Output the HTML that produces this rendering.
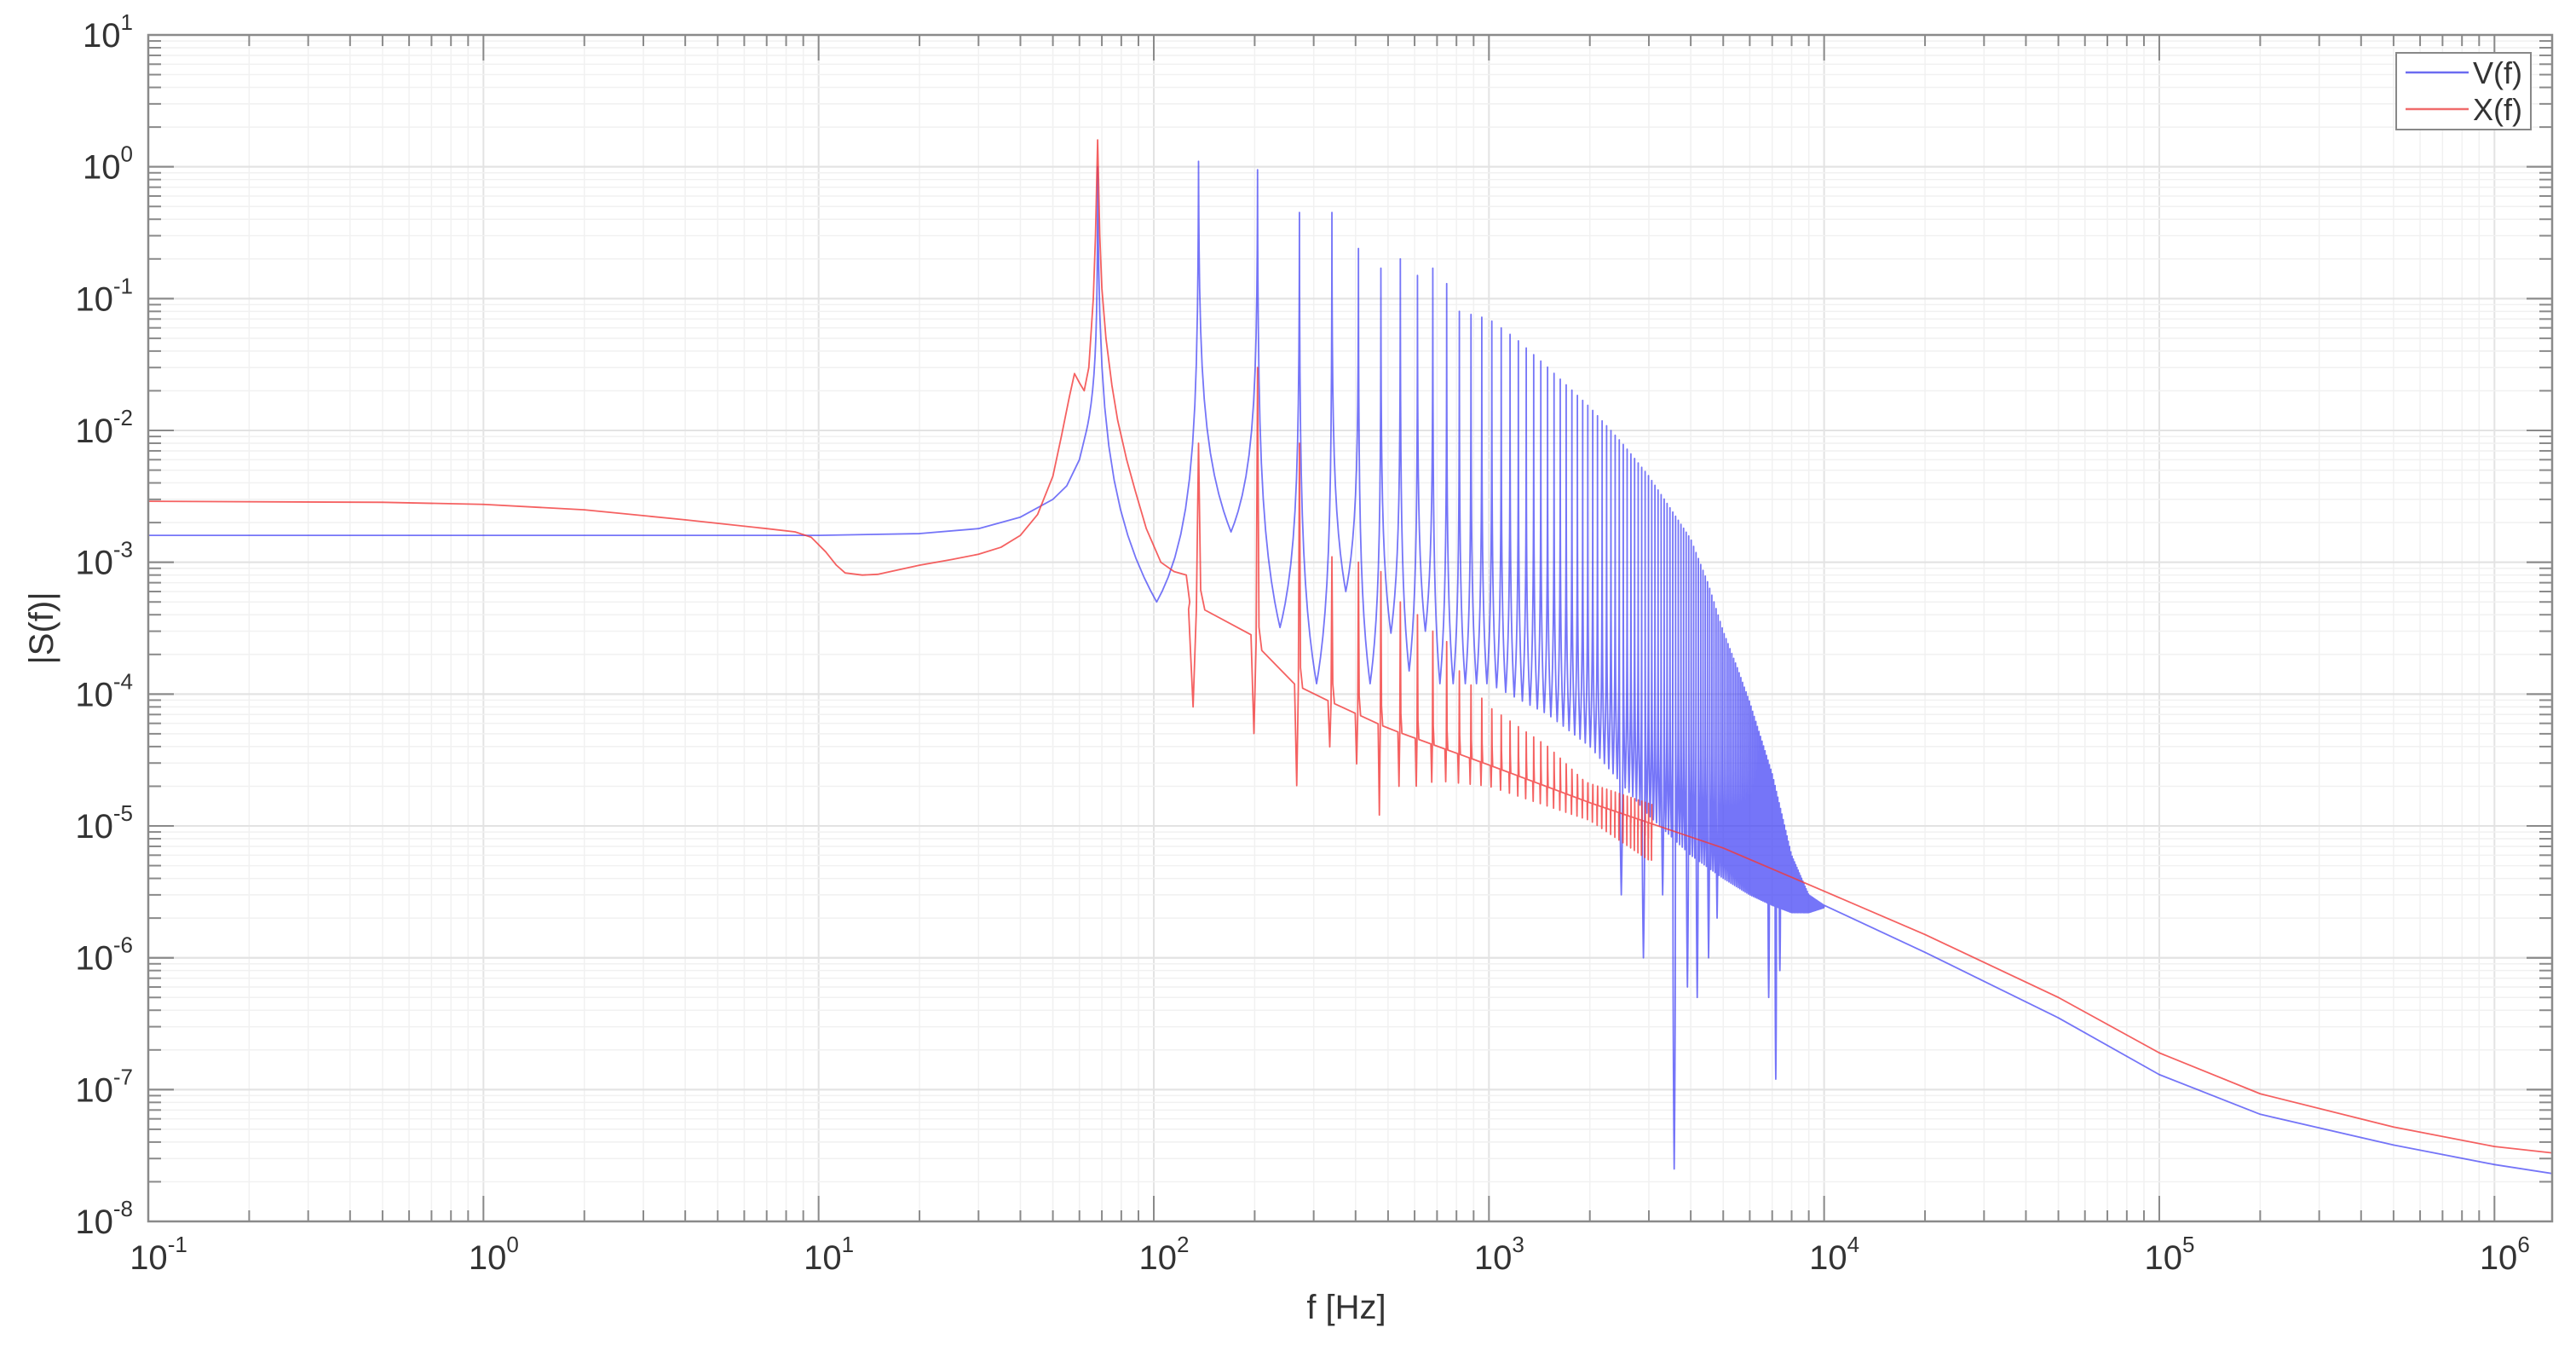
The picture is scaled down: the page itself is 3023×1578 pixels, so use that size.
<!DOCTYPE html>
<html><head><meta charset="utf-8">
<style>
html,body{margin:0;padding:0;background:#fff;}
svg{display:block;font-family:"Liberation Sans",Arial,sans-serif;}
</style></head>
<body>
<svg id="chart" width="3023" height="1578" viewBox="0 0 3023 1578" xmlns="http://www.w3.org/2000/svg">
<defs><clipPath id="plotclip"><rect x="174" y="41" width="2821" height="1392"/></clipPath></defs>
<rect x="174" y="41" width="2821" height="1392" fill="#fff"/>
<g id="grid"></g>
<g id="series" clip-path="url(#plotclip)"></g>
<g id="axes"></g>
<text x="1580" y="1547" font-size="40" fill="#333" text-anchor="middle">f [Hz]</text>
<text x="62" y="737" font-size="40" fill="#333" text-anchor="middle" transform="rotate(-90 62 737)">|S(f)|</text>
<g>
  <rect x="2812" y="62" width="158" height="90" fill="#fff" stroke="#888" stroke-width="2"/>
  <line x1="2823" y1="85" x2="2897" y2="85" stroke="#6b6bf0" stroke-width="2.5"/>
  <text x="2902" y="98" font-size="36" fill="#333">V(f)</text>
  <line x1="2823" y1="128" x2="2897" y2="128" stroke="#f06b6b" stroke-width="2.5"/>
  <text x="2902" y="141" font-size="36" fill="#333">X(f)</text>
</g>
</svg>
<script>
// ---------- data ----------
const xTickExps = [-1,0,1,2,3,4,5,6];
const yTickExps = [1,0,-1,-2,-3,-4,-5,-6,-7,-8];
const fundamentalHz = 68;
const harmonicCount = 147;
// V(f) low-frequency nodes
const blueLowF = [0.1,1,10,20,30,40,50,55,60,63];
const blueLowV = [1.6e-3,1.6e-3,1.6e-3,1.65e-3,1.8e-3,2.2e-3,3e-3,3.8e-3,6e-3,1e-2];
// V(f) harmonic peak envelope
const bluePeakF = [68,136,204,272,340,408,476,544,612,680,748,816,1000,1200,1500,2000,2500,3000,3500,4000,4500,5000,5500,6000,7000,8000,9000,10000];
const bluePeakV = [1.0,1.1,0.95,0.45,0.45,0.24,0.17,0.2,0.15,0.17,0.13,0.08,0.07,0.05,0.03,0.015,8e-3,4.5e-3,2.5e-3,1.5e-3,7e-4,3e-4,1.6e-4,8.7e-5,2.5e-5,6e-6,3e-6,2.5e-6];
// V(f) trough envelope (between harmonics)
const blueTroughF = [102,170,238,306,374,442,510,578,646,714,1000,1500,2000,3000,4000,5000,6000,7000,8000,9000,10000];
const blueTroughV = [5e-4,1.7e-3,3.2e-4,1.2e-4,6e-4,1.2e-4,2.9e-4,1.5e-4,3e-4,1.2e-4,1.2e-4,7e-5,4e-5,1.2e-5,6e-6,4e-6,3e-6,2.5e-6,2.2e-6,2.2e-6,2.4e-6];
// V(f) deep notches
const blueDipF = [2450,2900,3300,3600,3900,4200,4500,4800,6800,7200,7400];
const blueDipV = [3e-6,1e-6,3e-6,2.5e-8,6e-7,5e-7,1e-6,2e-6,5e-7,1.2e-7,8e-7];
// V(f) high-frequency tail
const blueTailF = [10000,20000,50000,100000,200000,500000,1000000,1500000];
const blueTailV = [2.4e-6,1.1e-6,3.5e-7,1.3e-7,6.5e-8,3.8e-8,2.7e-8,2.3e-8];
// X(f) low-frequency nodes
const redLowF = [0.1,0.5,1,2,4,7,8.5,9.5,10.5,11.3,12,13.5,15,20,25,30,35,40,45,50,53,56,58,60,62,64,66,67,68,69,70,72,75,78,83,88,95,105,115,125,128];
const redLowV = [2.9e-3,2.85e-3,2.75e-3,2.5e-3,2.1e-3,1.8e-3,1.7e-3,1.55e-3,1.2e-3,9.5e-4,8.3e-4,8e-4,8.1e-4,9.5e-4,1.05e-3,1.15e-3,1.3e-3,1.6e-3,2.3e-3,4.5e-3,9e-3,1.8e-2,2.7e-2,2.3e-2,2e-2,3e-2,0.1,0.3,1.6,0.3,0.12,5e-2,2.2e-2,1.2e-2,6e-3,3.5e-3,1.8e-3,1e-3,8.5e-4,8e-4,5e-4];
// X(f) baseline
const redBaseF = [140,184,214,262,300,500,1000,2000,5000,10000,20000,50000,100000,200000,500000,1000000,1500000];
const redBaseV = [4.4e-4,3.5e-4,2e-4,1.2e-4,1e-4,5.5e-5,2.9e-5,1.5e-5,6.8e-6,3.2e-6,1.5e-6,5e-7,1.9e-7,9.3e-8,5.2e-8,3.7e-8,3.3e-8];
// X(f) harmonic peaks and notches
const redPeakF = [136,204,272,340,408,476,544,612,680,748,816,1000,1500,2000,3000];
const redPeakV = [8e-3,3e-2,8e-3,1.1e-3,1e-3,8.5e-4,5e-4,4e-4,3e-4,2.5e-4,1.5e-4,8e-5,4e-5,2e-5,8e-6];
const redDipF = [131,200,266,334,402,470,538,606,700,1000,2000,3000];
const redDipV = [8e-5,5e-5,2e-5,4e-5,3e-5,1.2e-5,2e-5,2e-5,2.2e-5,2e-5,1.1e-5,5.5e-6];

// ---------- scales ----------
const X0=174, X1=2995, Y0=41, Y1=1433, DX=393.33, DY=154.67;
const xScale = f => X0 + (Math.log10(f)+1)*DX;
const yScale = v => Y0 + (1-Math.log10(v))*DY;
const fMax = Math.pow(10,(X1-X0)/DX-1);
function logInterp(F,V,f){
  if(f<=F[0]) return V[0];
  if(f>=F[F.length-1]) return V[V.length-1];
  for(let i=0;i<F.length-1;i++){
    if(f>=F[i]&&f<=F[i+1]){
      const t=(Math.log(f)-Math.log(F[i]))/(Math.log(F[i+1])-Math.log(F[i]));
      return Math.exp(Math.log(V[i])+t*(Math.log(V[i+1])-Math.log(V[i])));
    }
  }
}
const NS="http://www.w3.org/2000/svg";
function mk(tag,attrs,parent){const e=document.createElementNS(NS,tag);for(const k in attrs)e.setAttribute(k,attrs[k]);parent.appendChild(e);return e;}

// ---------- grid ----------
const grid=document.getElementById('grid');
for(let d=-1;d<=6;d++){for(let m=1;m<=9;m++){const f=m*Math.pow(10,d);if(f>fMax)continue;const x=xScale(f);
  const l=mk('line',{x1:x,y1:Y0,x2:x,y2:Y1,stroke:m===1?'#e3e3e3':'#f1f1f1','stroke-width':m===1?2:1.5},grid);
  
  }}
for(let d=-8;d<=0;d++){for(let m=1;m<=10;m++){const v=m*Math.pow(10,d);const y=yScale(v);
  const l=mk('line',{x1:X0,y1:y,x2:X1,y2:y,stroke:(m===1||m===10)?'#e3e3e3':'#f1f1f1','stroke-width':(m===1||m===10)?2:1.5},grid);
  
  }}

// ---------- series ----------
const K=150;
function profile(P,T,n,rising){ // resonance-like cusp: log v falls ~ log(distance)
  const out=[];
  for(let i=0;i<=n;i++){const d=i/n;const s=1-Math.log(1+K*d)/Math.log(1+K);out.push(Math.exp(Math.log(T)+(Math.log(P)-Math.log(T))*s));}
  return rising?out.reverse():out;
}
const samp=[0,0.003,0.008,0.015,0.03,0.06,0.1,0.16,0.24,0.34,0.46,0.6,0.75,0.88,1];
function profileAt(P,T,d){const s=1-Math.log(1+K*d)/Math.log(1+K);return Math.exp(Math.log(T)+(Math.log(P)-Math.log(T))*s);}
// blue
const bpts=[];
blueLowF.forEach((f,i)=>bpts.push([f,blueLowV[i]]));
// rising side into first peak
{const P=logInterp(bluePeakF,bluePeakV,fundamentalHz);const T=blueLowV[blueLowV.length-1];const a=blueLowF[blueLowF.length-1];
 for(let i=samp.length-2;i>=0;i--){bpts.push([fundamentalHz-(fundamentalHz-a)*samp[i],profileAt(P,T,samp[i])]);}}
const troughs=[];
for(let k=1;k<harmonicCount;k++){const mid=(k+0.5)*fundamentalHz;troughs.push(logInterp(blueTroughF,blueTroughV,mid));}
blueDipF.forEach((f,i)=>{const k=Math.round(f/fundamentalHz-0.5);if(k>=1&&k<harmonicCount)troughs[k-1]=blueDipV[i];});
for(let k=1;k<harmonicCount;k++){
  const fa=k*fundamentalHz, fb=(k+1)*fundamentalHz, P=logInterp(bluePeakF,bluePeakV,fa), Q=logInterp(bluePeakF,bluePeakV,fb), T=troughs[k-1];
  const half=(fb-fa)/2;
  for(let i=1;i<samp.length;i++)bpts.push([fa+half*samp[i],profileAt(P,T,samp[i])]);
  for(let i=samp.length-2;i>=0;i--)bpts.push([fb-half*samp[i],profileAt(Q,T,samp[i])]);
}
blueTailF.forEach((f,i)=>{if(f>harmonicCount*fundamentalHz+20)bpts.push([f,blueTailV[i]]);});
// red
const rpts=[];
redLowF.forEach((f,i)=>rpts.push([f,redLowV[i]]));
for(let k=2;k<=45;k++){
  const fk=k*fundamentalHz;
  const P=logInterp(redPeakF,redPeakV,fk), D=logInterp(redDipF,redDipV,fk-5);
  rpts.push([fk-9,logInterp(redBaseF,redBaseV,fk-9)]);
  rpts.push([fk-5,D]);
  rpts.push([fk-2,logInterp(redBaseF,redBaseV,fk-2)]);
  rpts.push([fk,P]);
  rpts.push([fk+2,logInterp(redBaseF,redBaseV,fk+2)*1.4]);
  rpts.push([fk+6,logInterp(redBaseF,redBaseV,fk+6)]);
}
redBaseF.forEach((f,i)=>{if(f>45*fundamentalHz+6)rpts.push([f,redBaseV[i]]);});
const series=document.getElementById('series');
function pathOf(pts){return pts.map((p,i)=>(i?'L':'M')+xScale(p[0]).toFixed(2)+' '+yScale(p[1]).toFixed(2)).join('');}
const bp=mk('path',{d:pathOf(bpts),fill:'none',stroke:'#3b3bf5','stroke-opacity':0.7,'stroke-width':1.8,'stroke-linejoin':'round'},series);


const rp=mk('path',{d:pathOf(rpts),fill:'none',stroke:'#f23a3a','stroke-opacity':0.8,'stroke-width':1.8,'stroke-linejoin':'round'},series);



// ---------- axes ----------
const axes=document.getElementById('axes');
const box=mk('rect',{x:X0,y:Y0,width:X1-X0,height:Y1-Y0,fill:'none',stroke:'#8a8a8a','stroke-width':2.5},axes);


for(let d=-1;d<=6;d++){for(let m=1;m<=9;m++){const f=m*Math.pow(10,d);if(f>fMax)continue;const x=xScale(f);const L=m===1?30:13;
  const t1=mk('line',{x1:x,y1:Y1,x2:x,y2:Y1-L,stroke:'#8a8a8a','stroke-width':2},axes);
  
  
  const t2=mk('line',{x1:x,y1:Y0,x2:x,y2:Y0+L,stroke:'#8a8a8a','stroke-width':2},axes);
  
  }}
for(let d=-8;d<=0;d++){for(let m=1;m<=10;m++){const y=yScale(m*Math.pow(10,d));const L=(m===1||m===10)?30:15;
  const t1=mk('line',{x1:X0,y1:y,x2:X0+L,y2:y,stroke:'#8a8a8a','stroke-width':2},axes);
  
  
  const t2=mk('line',{x1:X1,y1:y,x2:X1-L,y2:y,stroke:'#8a8a8a','stroke-width':2},axes);
  
  }}
xTickExps.forEach(e=>{const x=xScale(Math.pow(10,e));
  const t=mk('text',{x:x+12,y:1489,'font-size':40,fill:'#333','text-anchor':'middle'},axes);
  
  
  t.appendChild(document.createTextNode('10'));
  const s=mk('tspan',{dy:-20,'font-size':26},t);s.textContent=String(e);});
yTickExps.forEach(e=>{const y=yScale(Math.pow(10,e));
  const t=mk('text',{x:156,y:y+14,'font-size':40,fill:'#333','text-anchor':'end'},axes);
  
  
  t.appendChild(document.createTextNode('10'));
  const s=mk('tspan',{dy:-20,'font-size':26},t);s.textContent=String(e);});
</script>
</body></html>
